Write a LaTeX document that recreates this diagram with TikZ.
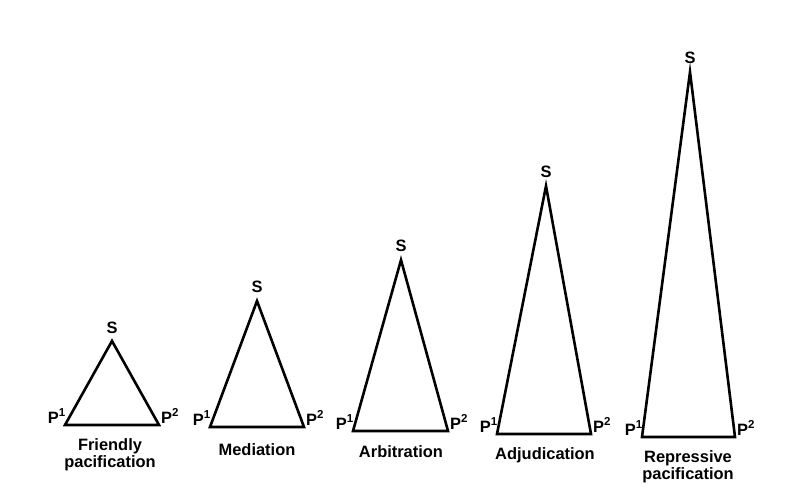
\documentclass[tikz,border=0pt]{standalone}
\usepackage{fontspec}
\setmainfont{Liberation Sans}
\begin{document}
\begin{tikzpicture}[x=1bp,y=-1bp,
  tri/.style={line width=2.6bp, line join=miter},
  lab/.style={font=\fontsize{16.5}{18}\selectfont\bfseries, inner sep=0pt},
  captxt/.style={font=\fontsize{16.5}{17.5}\selectfont\bfseries, inner sep=0pt, align=center}]
\useasboundingbox (0,0) rectangle (786,499);
\foreach \n/\ax/\ay/\lx/\rx/\by in {1/112/341/65/159/425, 2/257/301/210/304/427, 3/401/260/353/448/431, 4/546/186/497/591/434, 5/690/72/642/735/437}{
  \coordinate (A\n) at (\ax,\ay);
  \coordinate (L\n) at (\lx,\by);
  \coordinate (R\n) at (\rx,\by);
  \draw[tri] (A\n) -- (L\n) -- (R\n) -- cycle;
  \node[lab, anchor=base] (S\n) at ([yshift=8bp]A\n) {S};
  \node[lab, anchor=base east] (P1\n) at ([xshift=1bp,yshift=2bp]L\n) {P\textsuperscript{1}};
  \node[lab, anchor=base west] (P2\n) at ([xshift=2bp,yshift=2bp]R\n) {P\textsuperscript{2}};
}
\node[captxt] (c1) at (110,455) {Friendly\\pacification};
\node[captxt] (c2) at (257,450) {Mediation};
\node[captxt] (c3) at (401,452) {Arbitration};
\node[captxt] (c4) at (545,455) {Adjudication};
\node[captxt] (c5) at (688,467) {Repressive\\pacification};
\end{tikzpicture}
\end{document}
